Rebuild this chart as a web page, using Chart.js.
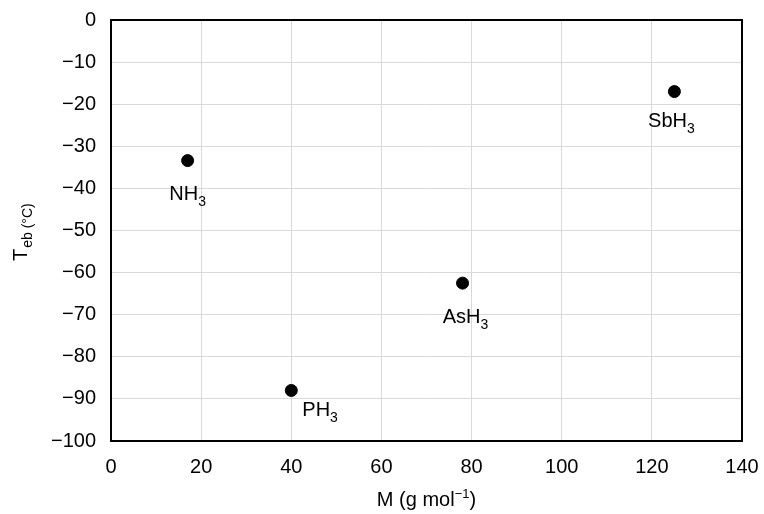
<!DOCTYPE html>
<html><head><meta charset="utf-8">
<script src="https://cdn.jsdelivr.net/npm/chart.js@4.4.1/dist/chart.umd.min.js"></script>
<style>html,body{margin:0;padding:0;background:#fff}canvas{display:block}</style>
</head><body>
<canvas id="c" width="764" height="514" style="width:764px;height:514px"></canvas>
<script>
// ---- data ----
const compounds = ['NH3', 'PH3', 'AsH3', 'SbH3'];
const molarMass = [17.0, 40.0, 78.0, 125.0];
const boilingPoint = [-33.4, -88.0, -62.5, -17.0];
const xTicks = [0, 20, 40, 60, 80, 100, 120, 140];
const yTicks = [0, -10, -20, -30, -40, -50, -60, -70, -80, -90, -100];
</script>
<script>
const FONT = '"Liberation Sans", Arial, Helvetica, sans-serif';
const FS = 20;
const points = molarMass.map((x, i) => ({x: x, y: boilingPoint[i]}));
// label placement relative to point (px)
const labelPlace = [
  {align: 'center', dx: 0, dy: 39},
  {align: 'left', dx: 11, dy: 26},
  {align: 'center', dx: 3, dy: 40},
  {align: 'center', dx: -3, dy: 35}
];
function splitFormula(s) {
  const m = s.match(/^(.*?)(\d+)$/);
  return m ? [m[1], m[2]] : [s, ''];
}
const minus = v => String(v).replace('-', '\u2212');
const deco = {
  id: 'deco',
  afterDatasetsDraw(chart) {
    const ctx = chart.ctx, a = chart.chartArea;
    ctx.save();
    ctx.strokeStyle = '#000';
    ctx.lineWidth = 2;
    ctx.strokeRect(a.left, a.top, a.right - a.left, a.bottom - a.top);
    const meta = chart.getDatasetMeta(0);
    ctx.fillStyle = '#000';
    ctx.textBaseline = 'alphabetic';
    ctx.textAlign = 'left';
    meta.data.forEach((el, i) => {
      const [base, sub] = splitFormula(compounds[i]);
      const p = labelPlace[i];
      ctx.font = FS + 'px ' + FONT;
      const wb = ctx.measureText(base).width;
      ctx.font = '14px ' + FONT;
      const ws = ctx.measureText(sub).width;
      const x0 = p.align === 'center' ? el.x + p.dx - (wb + ws) / 2 : el.x + p.dx;
      const y0 = el.y + p.dy;
      ctx.font = FS + 'px ' + FONT;
      ctx.fillText(base, x0, y0);
      ctx.font = '14px ' + FONT;
      ctx.fillText(sub, x0 + wb, y0 + 6);
    });
    // x title
    const t1 = 'M (g mol', t2 = '\u22121', t3 = ')';
    ctx.font = FS + 'px ' + FONT;
    const w1 = ctx.measureText(t1).width, w3 = ctx.measureText(t3).width;
    ctx.font = '13px ' + FONT;
    const w2 = ctx.measureText(t2).width;
    const xs = (a.left + a.right) / 2 - (w1 + w2 + w3) / 2;
    const yb = 506;
    ctx.font = FS + 'px ' + FONT; ctx.fillText(t1, xs, yb);
    ctx.font = '13px ' + FONT; ctx.fillText(t2, xs + w1, yb - 8);
    ctx.font = FS + 'px ' + FONT; ctx.fillText(t3, xs + w1 + w2, yb);
    // y title
    ctx.translate(27, 261);
    ctx.rotate(-Math.PI / 2);
    ctx.font = FS + 'px ' + FONT;
    ctx.fillText('T', 0, 0);
    const wt = ctx.measureText('T').width;
    ctx.font = '14px ' + FONT;
    ctx.fillText('eb (\u00B0C)', wt + 1, 5);
    ctx.restore();
  }
};
new Chart(document.getElementById('c'), {
  type: 'scatter',
  data: { datasets: [{
    data: points,
    backgroundColor: '#000', borderColor: '#000',
    pointRadius: 6, pointHoverRadius: 6
  }]},
  options: {
    responsive: false, animation: false, devicePixelRatio: 1,
    layout: { padding: { top: 20, right: 22, left: 0, bottom: 0 } },
    plugins: { legend: { display: false }, tooltip: { enabled: false } },
    scales: {
      x: {
        type: 'linear', min: 0, max: 140,
        afterBuildTicks: s => { s.ticks = xTicks.map(v => ({value: v})); },
        afterFit: s => { s.height = 73; s.paddingLeft = 0; s.paddingRight = 0; },
        grid: { color: '#d9d9d9', lineWidth: 1, drawTicks: false },
        border: { display: false },
        ticks: { color: '#000', font: { family: FONT, size: FS }, padding: 14, callback: minus, maxRotation: 0 }
      },
      y: {
        type: 'linear', min: -100, max: 0,
        afterBuildTicks: s => { s.ticks = yTicks.map(v => ({value: v})); },
        afterFit: s => { s.width = 111; s.paddingTop = 0; s.paddingBottom = 0; },
        grid: { color: '#d9d9d9', lineWidth: 1, drawTicks: false },
        border: { display: false },
        ticks: { color: '#000', font: { family: FONT, size: FS }, padding: 15, callback: minus }
      }
    }
  },
  plugins: [deco]
});
</script>
</body></html>
